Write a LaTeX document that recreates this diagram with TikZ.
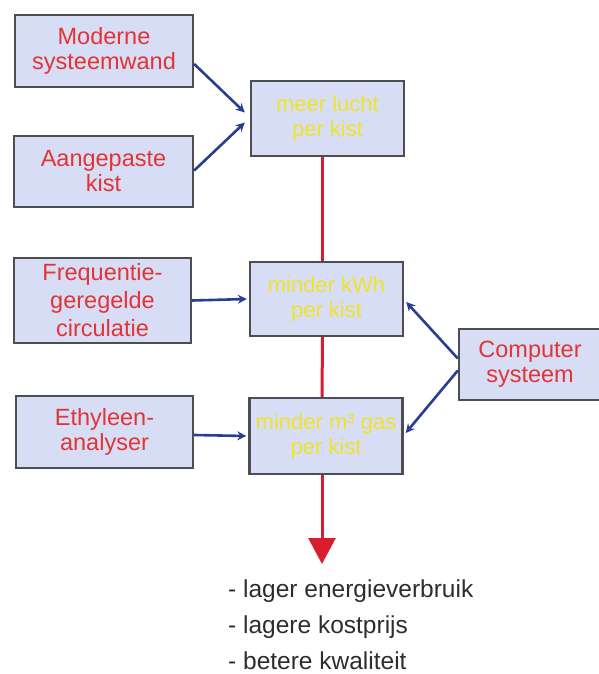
\documentclass[tikz,border=0pt]{standalone}
\usepackage{fontspec}
\setmainfont{Liberation Sans}
\usetikzlibrary{arrows.meta}
\definecolor{boxfill}{RGB}{216,221,246}
\definecolor{boxdraw}{RGB}{78,78,82}
\definecolor{redtxt}{RGB}{226,52,52}
\definecolor{yeltxt}{RGB}{238,228,40}
\definecolor{bluearr}{RGB}{40,62,145}
\definecolor{redarr}{RGB}{214,30,48}
\definecolor{bottxt}{RGB}{45,45,45}
\tikzset{
  srcbox/.style={draw=boxdraw, line width=2.4pt, fill=boxfill, inner sep=0pt,
    align=center, text=redtxt, font=\fontsize{23.5}{25}\selectfont},
  midbox/.style={draw=boxdraw, line width=2.4pt, fill=boxfill, inner sep=0pt,
    minimum width=153pt, align=center, text=yeltxt, font=\fontsize{22}{25}\selectfont},
  bluearrow/.style={draw=bluearr, line width=2.6pt, -{Stealth[length=9pt,width=9pt]}},
  redline/.style={draw=redarr, line width=3pt},
  bullet/.style={anchor=base west, inner sep=0pt, text=bottxt, font=\fontsize{24.5}{28}\selectfont}
}
\begin{document}
\begin{tikzpicture}[x=1pt,y=-1pt]
\useasboundingbox (0,0) rectangle (599,674);
% left source boxes
\node[srcbox, minimum width=178pt, minimum height=72pt] (m) at (104,51) {Moderne\\systeemwand};
\node[srcbox, minimum width=179pt, minimum height=71pt] (a) at (103.5,171.5) {Aangepaste\\kist};
\node[srcbox, minimum width=177pt, minimum height=85pt, font=\fontsize{23.5}{28}\selectfont] (f) at (102.5,300.5) {Frequentie-\\geregelde\\circulatie};
\node[srcbox, minimum width=177pt, minimum height=72pt] (e) at (104.5,432) {Ethyleen-\\analyser};
% right box
\node[srcbox, minimum width=142pt, minimum height=71pt] (cs) at (530,364.5) {Computer\\systeem};
% central boxes
\node[midbox, minimum height=75pt] (c1) at (327.5,118.5) {meer lucht\\per kist};
\node[midbox, minimum height=74pt] (c2) at (326.5,299) {minder kWh\\per kist};
\node[midbox, minimum height=76pt] (c3) at (326,436) {minder m³ gas\\per kist};
% red flow
\coordinate (tip) at (322,564);
\draw[redline] ([xshift=-5pt]c1.south) -- ([xshift=-4pt]c2.north);
\draw[redline] ([xshift=-4pt]c2.south) -- ([xshift=-4pt]c3.north);
\draw[redline, -{Triangle[length=26pt,width=27pt]}] ([xshift=-4pt]c3.south) -- (tip);
% blue arrows
\draw[bluearrow] ([yshift=-13pt]m.east) -- ([xshift=-5pt,yshift=6pt]c1.west);
\draw[bluearrow] ([yshift=1pt]a.east) -- ([xshift=-5pt,yshift=-4pt]c1.west);
\draw[bluearrow] (f.east) -- ([xshift=-2pt]c2.west);
\draw[bluearrow] ([yshift=-3pt]e.east) -- ([xshift=-2pt]c3.west);
\draw[bluearrow] ([yshift=6pt]cs.west) -- ([xshift=2pt,yshift=-3pt]c2.east);
\draw[bluearrow] ([yshift=-6pt]cs.west) -- ([xshift=2pt,yshift=3pt]c3.east);
% result list
\node[bullet] (r1) at (228,597) {- lager energieverbruik};
\node[bullet] (r2) at (228,633) {- lagere kostprijs};
\node[bullet] (r3) at (228,669) {- betere kwaliteit};
\end{tikzpicture}
\end{document}
